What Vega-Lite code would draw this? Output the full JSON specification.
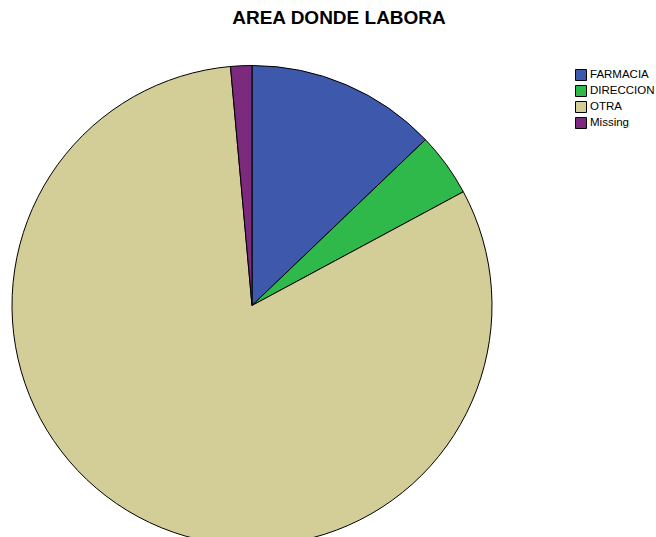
{
  "$schema": "https://vega.github.io/schema/vega-lite/v6.json",
  "autosize": "none",
  "padding": {"left": 0, "top": 40, "right": 152, "bottom": 0},
  "width": 504,
  "height": 531,
  "background": "white",
  "title": {
    "text": "AREA DONDE LABORA",
    "font": "Liberation Sans",
    "fontSize": 19,
    "fontWeight": "bold",
    "color": "black",
    "anchor": "middle",
    "dx": 87,
    "offset": 12
  },
  "data": {
    "values": [
      {"area": "FARMACIA", "count": 9, "rank": 1},
      {"area": "DIRECCION", "count": 3, "rank": 2},
      {"area": "OTRA", "count": 57, "rank": 3},
      {"area": "Missing", "count": 1, "rank": 4}
    ]
  },
  "mark": {"type": "arc", "outerRadius": 240, "stroke": "black", "strokeWidth": 1},
  "encoding": {
    "theta": {"field": "count", "type": "quantitative", "stack": true},
    "color": {
      "field": "area",
      "type": "nominal",
      "sort": ["FARMACIA", "DIRECCION", "OTRA", "Missing"],
      "scale": {
        "domain": ["FARMACIA", "DIRECCION", "OTRA", "Missing"],
        "range": ["#3e59ab", "#2eb94a", "#d3cd98", "#7b2a7e"]
      },
      "legend": {
        "title": null,
        "orient": "none",
        "legendX": 575,
        "legendY": 29,
        "symbolType": "square",
        "symbolSize": 121,
        "symbolStrokeColor": "black",
        "symbolStrokeWidth": 1,
        "symbolOpacity": 1,
        "labelFont": "Liberation Sans",
        "labelFontSize": 11.5,
        "labelColor": "black",
        "labelOffset": 3,
        "labelLimit": 200,
        "rowPadding": 0
      }
    },
    "order": {"field": "rank", "type": "quantitative", "sort": "ascending"}
  }
}
